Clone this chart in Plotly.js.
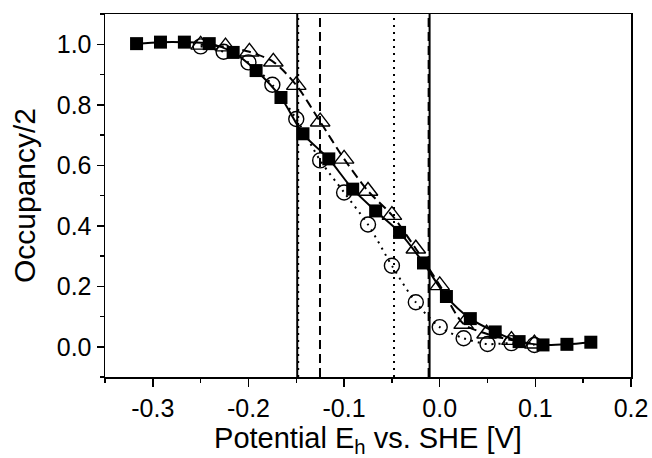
<!DOCTYPE html>
<html>
<head>
<meta charset="utf-8">
<script src="https://cdn.plot.ly/plotly-3.0.1.min.js"></script>
<style>html,body{margin:0;padding:0;background:#fff;}#chart{width:652px;height:458px;}</style>
</head>
<body>
<div id="chart"></div>
<script>
// Filled squares (solid fit)
var squareX = [-0.317, -0.292, -0.267, -0.241, -0.216, -0.192, -0.166, -0.143, -0.116, -0.091, -0.067, -0.042, -0.017, 0.007, 0.032, 0.058, 0.083, 0.108, 0.133, 0.158];
var squareY = [1.002, 1.007, 1.007, 1.002, 0.973, 0.913, 0.824, 0.704, 0.621, 0.521, 0.449, 0.378, 0.277, 0.166, 0.093, 0.049, 0.017, 0.006, 0.008, 0.015];
// Open triangles (dashed fit)
var triangleX = [-0.250, -0.224, -0.199, -0.174, -0.150, -0.125, -0.100, -0.075, -0.050, -0.025, 0.000, 0.025, 0.049, 0.075, 0.099];
var triangleY = [0.998, 0.992, 0.975, 0.942, 0.865, 0.744, 0.621, 0.515, 0.435, 0.324, 0.203, 0.075, 0.043, 0.022, 0.010];
// Open circles (dotted fit)
var circleX = [-0.250, -0.226, -0.200, -0.175, -0.150, -0.125, -0.100, -0.075, -0.050, -0.025, 0.000, 0.025, 0.050, 0.075, 0.099];
var circleY = [0.993, 0.975, 0.940, 0.866, 0.753, 0.616, 0.510, 0.404, 0.268, 0.147, 0.065, 0.028, 0.009, 0.012, 0.006];
// Midpoint potentials (vertical lines)
var solidLines = [-0.149, -0.0106];
var dashedLines = [-0.1252, -0.0116];
var dottedLines = [-0.148, -0.0478];
// Tick labels
var xTickVals = [-0.3, -0.2, -0.1, 0.0, 0.1, 0.2];
var xTickText = ["-0.3", "-0.2", "-0.1", "0.0", "0.1", "0.2"];

var FONT = "Liberation Sans, Arial, Helvetica, sans-serif";

var traces = [
  {x: circleX, y: circleY, mode: "lines+markers", type: "scatter",
   line: {color: "#000", width: 2, dash: "2px,5px", shape: "spline", smoothing: 0.8},
   marker: {symbol: "circle-open", size: 15, color: "#000", line: {width: 1.4, color: "#000"}}},
  {x: triangleX, y: triangleY, mode: "lines+markers", type: "scatter",
   line: {color: "#000", width: 2, dash: "9px,5px", shape: "spline", smoothing: 0.8},
   marker: {symbol: "triangle-up-open", size: 17, color: "#000", line: {width: 1.4, color: "#000"}}},
  {x: squareX, y: squareY, mode: "lines+markers", type: "scatter",
   line: {color: "#000", width: 2, shape: "spline", smoothing: 0.8},
   marker: {symbol: "square", size: 13, color: "#000"}}
];

var shapes = [];
function vline(xv, dash) {
  return {type: "line", xref: "x", yref: "paper", x0: xv, x1: xv, y0: 0, y1: 1,
          line: {color: "#000", width: 2, dash: dash}, layer: "below"};
}
solidLines.forEach(function (v) { shapes.push(vline(v, "solid")); });
dashedLines.forEach(function (v) { shapes.push(vline(v, "9px,5px")); });
dottedLines.forEach(function (v) { shapes.push(vline(v, "2px,5px")); });

var layout = {
  width: 652, height: 458,
  margin: {l: 105, r: 21, t: 14, b: 81},
  paper_bgcolor: "#fff", plot_bgcolor: "#fff",
  showlegend: false,
  font: {family: FONT, color: "#000"},
  shapes: shapes,
  xaxis: {
    range: [-0.35, 0.2], tickmode: "array", tickvals: xTickVals, ticktext: xTickText,
    ticks: "outside", ticklen: 8, tickwidth: 1.5, tickcolor: "#000",
    minor: {tickmode: "linear", tick0: 0, dtick: 0.05, ticks: "outside", ticklen: 4, tickwidth: 1.5, tickcolor: "#000"},
    showline: true, linecolor: "#000", linewidth: 1.5, mirror: true,
    showgrid: false, zeroline: false,
    tickfont: {size: 25, family: FONT},
    title: {text: "Potential E<sub>h</sub> vs. SHE [V]", font: {size: 29, family: FONT}, standoff: 10}
  },
  yaxis: {
    range: [-0.1, 1.1], tickmode: "linear", tick0: 0, dtick: 0.2, tickformat: ".1f",
    ticks: "outside", ticklen: 7, tickwidth: 1.5, tickcolor: "#000",
    minor: {tickmode: "linear", tick0: 0, dtick: 0.1, ticks: "outside", ticklen: 4, tickwidth: 1.5, tickcolor: "#000"},
    showline: true, linecolor: "#000", linewidth: 1.5, mirror: true,
    showgrid: false, zeroline: false,
    tickfont: {size: 25, family: FONT},
    title: {text: "Occupancy/2", font: {size: 30, family: FONT}, standoff: 12}
  }
};

Plotly.newPlot("chart", traces, layout, {displayModeBar: false, staticPlot: true});
</script>
</body>
</html>
